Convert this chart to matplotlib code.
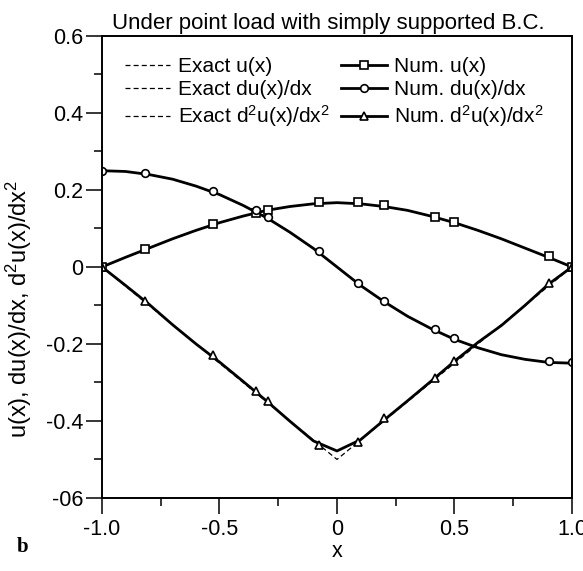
import matplotlib
matplotlib.use("Agg")
import matplotlib.pyplot as plt
from matplotlib.lines import Line2D
import numpy as np

plt.rcParams['font.family'] = ['Liberation Sans', 'DejaVu Sans']
plt.rcParams['mathtext.default'] = 'regular'

# node positions (markers)
x_nodes = [-1.0, -0.815, -0.527, -0.345, -0.295, -0.077, 0.091, 0.201, 0.419, 0.498, 0.901, 1.0]
u_nodes = [0.0, 0.046, 0.111, 0.140, 0.148, 0.168, 0.169, 0.161, 0.131, 0.118, 0.028, 0.0]
du_nodes = [0.250, 0.243, 0.197, 0.147, 0.129, 0.041, -0.042, -0.089, -0.162, -0.185, -0.244, -0.247]
d2u_nodes = [0.0, -0.088, -0.229, -0.321, -0.347, -0.463, -0.454, -0.393, -0.288, -0.245, -0.042, 0.0]

# curves traced along x (exact and numerical coincide for u and du)
x_line = [-1.0, -0.9, -0.8, -0.7, -0.6, -0.5, -0.4, -0.3, -0.2, -0.1, 0.0,
          0.1, 0.2, 0.3, 0.4, 0.5, 0.6, 0.7, 0.8, 0.9, 1.0]
u_exact = [0.0, 0.025, 0.049, 0.073, 0.095, 0.115, 0.132, 0.147, 0.157, 0.164, 0.167,
           0.164, 0.157, 0.147, 0.132, 0.115, 0.095, 0.073, 0.049, 0.025, 0.0]
du_exact = [0.250, 0.248, 0.240, 0.228, 0.210, 0.188, 0.160, 0.128, 0.090, 0.048, 0.0,
            -0.048, -0.090, -0.128, -0.160, -0.188, -0.210, -0.228, -0.240, -0.248, -0.250]
d2u_num_line = [0.0, -0.048, -0.097, -0.150, -0.200, -0.247, -0.297, -0.348, -0.401, -0.452, -0.478,
                -0.449, -0.398, -0.348, -0.297, -0.245, -0.196, -0.152, -0.100, -0.045, 0.0]
x_vee = [-1.0, 0.0, 1.0]
d2u_exact = [0.0, -0.5, 0.0]

yticks = [-0.6, -0.4, -0.2, 0.0, 0.2, 0.4, 0.6]
ylabels = ['-06', '-0.4', '-0.2', '0', '0.2', '0.4', '0.6']
xticks = [-1.0, -0.5, 0.0, 0.5, 1.0]
xlabels = ['-1.0', '-0.5', '0', '0.5', '1.0']

fig = plt.figure(figsize=(5.83, 5.71), dpi=100)
ax = fig.add_axes([0.175, 0.128, 0.806, 0.809])

dash = (0, (4, 2.5))
ax.plot(x_line, u_exact, color='k', lw=0.9, ls=dash)
ax.plot(x_line, du_exact, color='k', lw=0.9, ls=dash)
ax.plot(x_vee, d2u_exact, color='k', lw=0.9, ls=dash)

ax.plot(x_line, u_exact, color='k', lw=2.0)
ax.plot(x_line, du_exact, color='k', lw=2.0)
ax.plot(x_line, d2u_num_line, color='k', lw=2.0)

mk = dict(ls='none', mfc='white', mec='k', mew=1.2)
ax.plot(x_nodes, u_nodes, marker='s', ms=5.5, **mk)
ax.plot(x_nodes, du_nodes, marker='o', ms=5.5, **mk)
ax.plot(x_nodes, d2u_nodes, marker='^', ms=6, **mk)

ax.set_xlim(-1.0, 1.0)
ax.set_ylim(-0.6, 0.6)
ax.set_xticks(xticks)
ax.set_xticklabels(xlabels)
ax.set_yticks(yticks)
ax.set_yticklabels(ylabels)
ax.set_xticks(np.arange(-1.0, 1.01, 0.25), minor=True)
ax.set_yticks(np.arange(-0.6, 0.61, 0.1), minor=True)
ax.tick_params(which='major', direction='out', length=11.5, width=1.1, labelsize=15.5, pad=2)
ax.tick_params(which='minor', direction='out', length=5.5, width=1.1)
ax.tick_params(axis='x', which='major', pad=4)
for s in ax.spines.values():
    s.set_linewidth(1.4)

ax.set_title('Under point load with simply supported B.C.', fontsize=16, pad=5, x=0.481)
ax.set_xlabel('x', fontsize=15.5)
ax.xaxis.set_label_coords(0.5, -0.093)
ax.set_ylabel('u(x), du(x)/dx, d$^2$u(x)/dx$^2$', fontsize=17)
ax.yaxis.set_label_coords(-0.145, 0.41)

handles = [
    Line2D([], [], color='k', lw=0.9, ls=dash),
    Line2D([], [], color='k', lw=0.9, ls=dash),
    Line2D([], [], color='k', lw=0.9, ls=dash),
    Line2D([], [], color='k', lw=2.0, marker='s', ms=5.5, mfc='white', mec='k', mew=1.2),
    Line2D([], [], color='k', lw=2.0, marker='o', ms=5.5, mfc='white', mec='k', mew=1.2),
    Line2D([], [], color='k', lw=2.0, marker='^', ms=6, mfc='white', mec='k', mew=1.2),
]
labels = ['Exact u(x)', 'Exact du(x)/dx', 'Exact d$^2$u(x)/dx$^2$',
          'Num. u(x)', 'Num. du(x)/dx', 'Num. d$^2$u(x)/dx$^2$']
ax.legend(handles, labels, ncol=2, loc='upper left', bbox_to_anchor=(0.026, 0.977),
          frameon=False, borderpad=0, fontsize=15, handlelength=2.2,
          handletextpad=0.35, columnspacing=0.55, labelspacing=0.2, numpoints=1)

fig.text(23 / 583, 1 - 552 / 571, 'b', fontsize=15, fontweight='bold',
         family='Liberation Serif', ha='center', va='baseline')

fig.savefig('out.png', dpi=100)
